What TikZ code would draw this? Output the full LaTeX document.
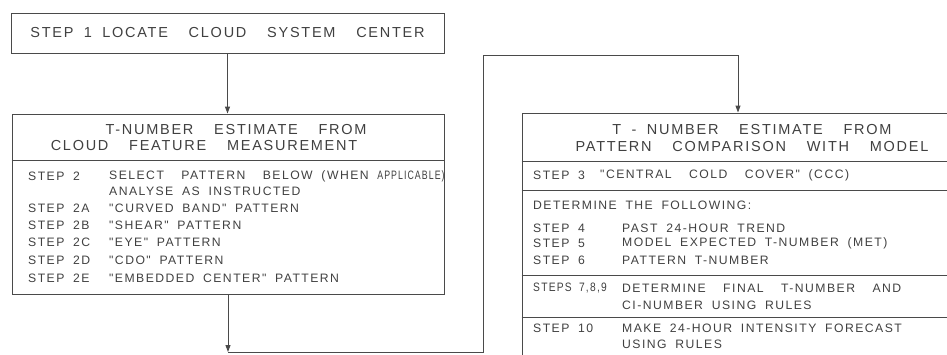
\documentclass[tikz,border=0pt]{standalone}
\usepackage{fontspec}
\usepackage{graphicx}
\newfontfamily\stencil[LetterSpace=12,WordSpace=1.8]{Liberation Sans}
\usetikzlibrary{arrows.meta, positioning}
\definecolor{inkline}{HTML}{4A4A4A}
\definecolor{inktext}{HTML}{404040}
\tikzset{
  % riquadro di un passo
  stepbox/.style={draw=inkline, line width=0.9pt, rectangle, inner sep=0pt},
  % intestazioni dei riquadri
  hdr/.style={font=\stencil\fontsize{14.5}{17}\selectfont, text=inktext, align=center},
  % righe di testo dentro i riquadri
  row/.style={font=\stencil\fontsize{12.2}{14}\selectfont, text=inktext, anchor=west,
    inner sep=0pt},
  % separatori orizzontali
  divider/.style={draw=inkline, line width=0.9pt},
  % linee di flusso
  flow/.style={draw=inkline, line width=0.9pt},
  flowarr/.style={flow, -{Triangle[length=7pt,width=5pt]}},
}
\begin{document}
\begin{tikzpicture}[x=1pt, y=-1pt]
  \clip (0,0) rectangle (947,354);
  % passo 1
  \node[stepbox, hdr, minimum width=433pt, minimum height=40pt] (locate) at (227.5,33)
    {STEP 1 LOCATE~~CLOUD~~SYSTEM~~CENTER};
  % misura delle caratteristiche
  \node[stepbox, minimum width=432pt, minimum height=180pt] (cfm) at (228,204) {};
  \node[hdr] (cfmh1) at (236,130) {T-NUMBER~~ESTIMATE~~FROM};
  \node[hdr] (cfmh2) at (204,146) {CLOUD~~FEATURE~~MEASUREMENT};
  \draw[divider] (cfm.west |- 0,160) -- (cfm.east |- 0,160);
  \foreach \lab/\y [count=\i] in {{STEP 2}/176, {STEP 2A}/208, {STEP 2B}/225,
      {STEP 2C}/242, {STEP 2D}/260, {STEP 2E}/278}
    \node[row] (cl\i) at (28,\y) {\lab};
  \foreach \desc/\y [count=\i] in {{SELECT~~PATTERN~~BELOW (WHEN \scalebox{0.72}[1]{APPLICABLE)}}/176,
      {ANALYSE AS INSTRUCTED}/191, {"CURVED BAND" PATTERN}/208,
      {"SHEAR" PATTERN}/225, {"EYE" PATTERN}/242, {"CDO" PATTERN}/260,
      {"EMBEDDED CENTER" PATTERN}/278}
    \node[row] (cd\i) at (109,\y) {\desc};
  % confronto con il modello
  \node[stepbox, minimum width=458pt, minimum height=257pt] (pcm) at (751,241.5) {};
  \node[hdr] (pcmh) at (752,138) {T - NUMBER~~ESTIMATE~~FROM\\PATTERN~~COMPARISON~~WITH~~MODEL};
  \foreach \y in {161,190,275,317}
    \draw[divider] (pcm.west |- 0,\y) -- (pcm.east |- 0,\y);
  \node[row] (pl3) at (533,175) {STEP 3};
  \node[row] (pd3) at (600,175) {"CENTRAL~~COLD~~COVER" (CCC)};
  \node[row] (pdet) at (533,205) {DETERMINE THE FOLLOWING:};
  \foreach \lab/\desc/\y [count=\i] in {{STEP 4}/{PAST 24-HOUR TREND}/228,
      {STEP 5}/{MODEL EXPECTED T-NUMBER (MET)}/243,
      {STEP 6}/{PATTERN T-NUMBER}/260,
      {\scalebox{0.84}[1]{STEPS 7,8,9}}/{DETERMINE~~FINAL~~T-NUMBER~~AND}/288,
      {STEP 10}/{MAKE 24-HOUR INTENSITY FORECAST}/328}
  {
    \node[row] (pl\i) at (533,\y) {\lab};
    \node[row] (pd\i) at (622,\y) {\desc};
  }
  \node[row] (pci) at (622,305) {CI-NUMBER USING RULES};
  \node[row] (pus) at (622,344) {USING RULES};
  % collegamenti
  \coordinate (low) at (483,352);
  \coordinate (high) at (738,55);
  \draw[flowarr] (locate.south) -- (locate.south |- cfm.north);
  \draw[flowarr] (cfm.south) -- (cfm.south |- low);
  \draw[flow] (cfm.south |- low) -- (low) |- (high);
  \draw[flowarr] (high) -- (high |- pcm.north);
\end{tikzpicture}
\end{document}
